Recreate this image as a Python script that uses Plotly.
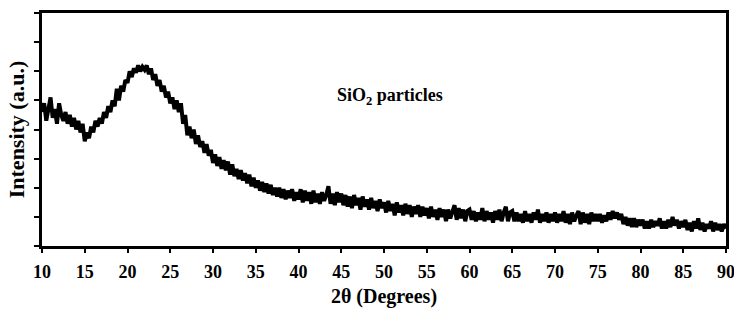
import numpy as np
import plotly.graph_objects as go

# 2-theta grid (degrees), step 0.25 from 10 to 90
two_theta = np.round(np.arange(10.0, 90.0001, 0.25), 2)

# Intensity (a.u.), one row per 5 degrees
intensity = [
    # 10-15
    4.6, 4.9, 4.3, 4.8, 5.1, 4.4, 4.7, 4.2, 4.9, 4.5, 4.3, 4.6, 4.2, 4.5, 4.1, 4.4, 4.0, 4.3, 3.9, 4.2,
    # 15-20
    3.6, 3.9, 3.7, 4.1, 3.9, 4.3, 4.1, 4.4, 4.2, 4.6, 4.4, 4.8, 4.6, 5.0, 4.8, 5.4, 5.0, 5.5, 5.3, 5.7,
    # 20-25
    5.6, 6.0, 5.8, 6.1, 5.95, 6.2, 6.0, 6.15, 6.05, 6.2, 5.9, 6.1, 5.7, 5.9, 5.5, 5.7, 5.3, 5.5, 5.1, 5.3,
    # 25-30
    4.9, 5.1, 4.7, 5.0, 4.6, 4.9, 4.2, 4.5, 3.8, 4.1, 3.7, 4.0, 3.5, 3.8, 3.4, 3.6, 3.2, 3.5, 3.1, 3.3,
    # 30-35
    2.85, 3.15, 2.75, 3.05, 2.65, 2.95, 2.6, 2.9, 2.45, 2.8, 2.4, 2.65, 2.3, 2.6, 2.25, 2.5, 2.15, 2.45, 2.05, 2.35,
    # 35-40
    2.0, 2.25, 1.9, 2.2, 1.85, 2.15, 1.8, 2.1, 1.75, 2.0, 1.7, 2.0, 1.65, 1.95, 1.6, 1.9, 1.65, 1.95, 1.55, 1.85,
    # 40-45
    1.6, 1.95, 1.5, 1.9, 1.55, 1.85, 1.45, 1.9, 1.5, 1.8, 1.45, 1.85, 1.55, 1.75, 2.05, 1.45, 1.8, 1.4, 1.85, 1.5,
    # 45-50
    1.8, 1.4, 1.75, 1.35, 1.7, 1.3, 1.75, 1.4, 1.65, 1.25, 1.7, 1.35, 1.6, 1.25, 1.65, 1.3, 1.55, 1.2, 1.6, 1.3,
    # 50-55
    1.5, 1.15, 1.55, 1.2, 1.45, 1.05, 1.5, 1.15, 1.4, 1.05, 1.45, 1.1, 1.4, 1.0, 1.35, 1.1, 1.4, 1.0, 1.35, 1.05,
    # 55-60
    1.3, 0.95, 1.35, 1.0, 1.25, 0.9, 1.3, 1.0, 1.25, 0.85, 1.25, 0.95, 1.2, 1.4, 0.9, 1.3, 0.95, 1.25, 0.85, 1.2,
    # 60-65
    1.25, 0.9, 1.2, 0.85, 1.15, 0.9, 1.3, 0.85, 1.2, 0.9, 1.15, 0.8, 1.2, 0.9, 1.25, 0.85, 1.15, 1.35, 0.85, 1.15,
    # 65-70
    1.2, 0.85, 1.15, 0.85, 1.1, 0.8, 1.2, 0.85, 1.1, 0.8, 1.15, 0.9, 1.25, 0.8, 1.1, 0.85, 1.15, 0.8, 1.1, 0.85,
    # 70-75
    1.15, 0.8, 1.1, 0.85, 1.2, 0.8, 1.1, 0.75, 1.15, 0.85, 1.05, 1.2, 0.75, 1.15, 0.8, 1.1, 0.75, 1.15, 0.85, 1.1,
    # 75-80
    0.85, 1.1, 0.8, 1.05, 0.85, 1.15, 0.9, 1.2, 0.95, 1.15, 0.9, 1.1, 0.75, 1.0, 0.7, 0.95, 0.65, 0.95, 0.65, 0.9,
    # 80-85
    0.7, 0.9, 0.6, 0.85, 0.6, 0.9, 0.65, 0.85, 0.7, 0.95, 0.6, 0.85, 0.6, 0.9, 0.65, 1.0, 0.7, 0.9, 0.6, 0.85,
    # 85-90
    0.65, 0.9, 0.55, 0.8, 0.5, 0.85, 0.6, 0.95, 0.55, 0.8, 0.5, 0.75, 0.6, 0.85, 0.5, 0.8, 0.55, 0.75, 0.5, 0.75,
    # 90
    0.6,
]

x_ticks = list(range(10, 91, 5))
y_ticks = list(range(0, 9))

serif = "Liberation Serif, Times New Roman, serif"

fig = go.Figure()
fig.add_trace(go.Scatter(
    x=two_theta, y=intensity, mode="lines",
    line=dict(color="black", width=4), showlegend=False,
))

fig.add_annotation(
    x=50.7, y=5.12, xref="x", yref="y",
    text="<b>SiO<sub>2</sub> particles</b>", showarrow=False,
    font=dict(family=serif, size=18, color="black"),
)

fig.update_layout(
    width=734, height=309,
    margin=dict(l=42, r=8, t=13, b=63),
    paper_bgcolor="white", plot_bgcolor="white",
    font=dict(family=serif, color="black"),
)
fig.update_xaxes(
    range=[10, 90], tickvals=x_ticks, ticktext=[f"<b>{t}</b>" for t in x_ticks],
    ticks="outside", ticklen=4, tickwidth=1.5, tickcolor="black",
    showline=True, linecolor="black", linewidth=2.5, mirror=True,
    showgrid=False, zeroline=False, automargin=False,
    ticklabelstandoff=4, ticklabeloverflow="allow",
    tickfont=dict(family=serif, size=18, color="black"),
    title=dict(text="<b>2θ (Degrees)</b>", font=dict(family=serif, size=20, color="black"), standoff=8),
)
fig.update_yaxes(
    range=[0, 8], tickvals=y_ticks, showticklabels=False,
    ticks="outside", ticklen=5, tickwidth=1.5, tickcolor="black",
    showline=True, linecolor="black", linewidth=2.5, mirror=True,
    showgrid=False, zeroline=False, automargin=False,
    title=dict(text="<b>Intensity (a.u.)</b>", font=dict(family=serif, size=22, color="black"), standoff=4),
)

fig.write_html(
    "out.html",
    config={"displayModeBar": False},
    post_script="document.body.style.margin='0px';document.body.style.overflow='hidden';",
)
